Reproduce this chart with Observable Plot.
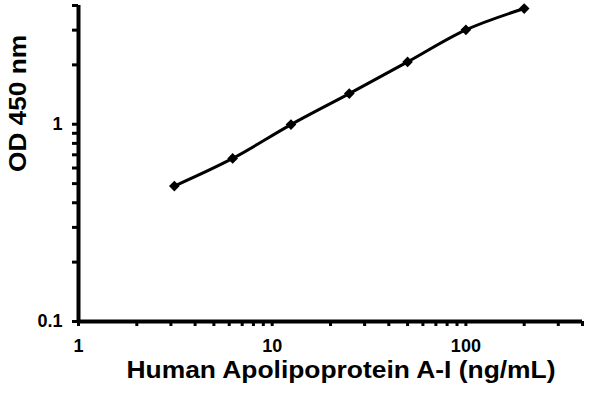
<!DOCTYPE html>
<html>
<head>
<meta charset="utf-8">
<script src="https://cdn.jsdelivr.net/npm/d3@7"></script>
<script src="https://cdn.jsdelivr.net/npm/@observablehq/plot@0.6"></script>
<style>
  html, body { margin: 0; padding: 0; background: #fff; }
</style>
</head>
<body>
<div id="chart"></div>
<script>
const concentration = [3.125, 6.25, 12.5, 25, 50, 100, 200];
const od450 = [0.486, 0.671, 0.996, 1.43, 2.07, 3.01, 3.86];

const xMajorTicks = [1, 10, 100];
const xMinorTicks = [2, 3, 4, 5, 6, 7, 8, 9, 20, 30, 40, 50, 60, 70, 80, 90, 200, 300, 400];
const yMajorTicks = [0.1, 1];
const yMinorTicks = [0.2, 0.3, 0.4, 0.5, 0.6, 0.7, 0.8, 0.9, 2, 3, 4];

const xTitle = "Human Apolipoprotein A-I (ng/mL)";
const yTitle = "OD 450 nm";

const data = concentration.map((c, i) => ({x: c, y: od450[i]}));
const font = "'Liberation Sans', Arial, sans-serif";

const chart = Plot.plot({
  width: 600,
  height: 393,
  marginLeft: 78,
  marginRight: 18,
  marginTop: 5,
  marginBottom: 72,
  style: {fontFamily: font, fontWeight: "bold", fontSize: "17px", color: "#000", background: "#fff"},
  x: {type: "log", domain: [1, 400]},
  y: {type: "log", domain: [0.1, 4]},
  marks: [
    Plot.axisX(xMinorTicks, {tickSize: 5, stroke: "#000", strokeWidth: 3, tickFormat: () => "", label: null}),
    Plot.axisX(xMajorTicks, {tickSize: 5, stroke: "#000", strokeWidth: 3, tickPadding: 13, tickFormat: d => String(d), fontSize: 18, fontWeight: "bold", fill: "#000", label: null}),
    Plot.axisY(yMinorTicks, {tickSize: 6, stroke: "#000", strokeWidth: 3, tickFormat: () => "", label: null}),
    Plot.axisY(yMajorTicks, {tickSize: 6, stroke: "#000", strokeWidth: 3, tickPadding: 10, tickFormat: d => String(d), fontSize: 18, fontWeight: "bold", fill: "#000", label: null}),
    Plot.ruleY([0.1], {strokeWidth: 4, stroke: "#000"}),
    Plot.ruleX([1], {strokeWidth: 4, stroke: "#000"}),
    Plot.line(data, {x: "x", y: "y", stroke: "#000", strokeWidth: 3, curve: "catmull-rom"}),
    Plot.dot(data, {x: "x", y: "y", symbol: "diamond2", r: 4.8, fill: "#000", stroke: "none"}),
    Plot.text([xTitle], {frameAnchor: "bottom", dy: 49, dx: 10.5, fontSize: 23, fontWeight: "bold", fill: "#000", lineAnchor: "middle", className: "xtitle"}),
    Plot.text([yTitle], {frameAnchor: "left", dx: -60, dy: 8.5, rotate: -90, fontSize: 23, fontWeight: "bold", fill: "#000", className: "ytitle"})
  ]
});
// stretch titles to the reference's wide lettering
d3.select(chart).selectAll("text").each(function() {
  const t = this.textContent;
  if (t === xTitle) d3.select(this).attr("textLength", 429).attr("lengthAdjust", "spacingAndGlyphs");
  if (t === yTitle) d3.select(this).attr("textLength", 137).attr("lengthAdjust", "spacingAndGlyphs");
});
document.getElementById("chart").appendChild(chart);
</script>
</body>
</html>
